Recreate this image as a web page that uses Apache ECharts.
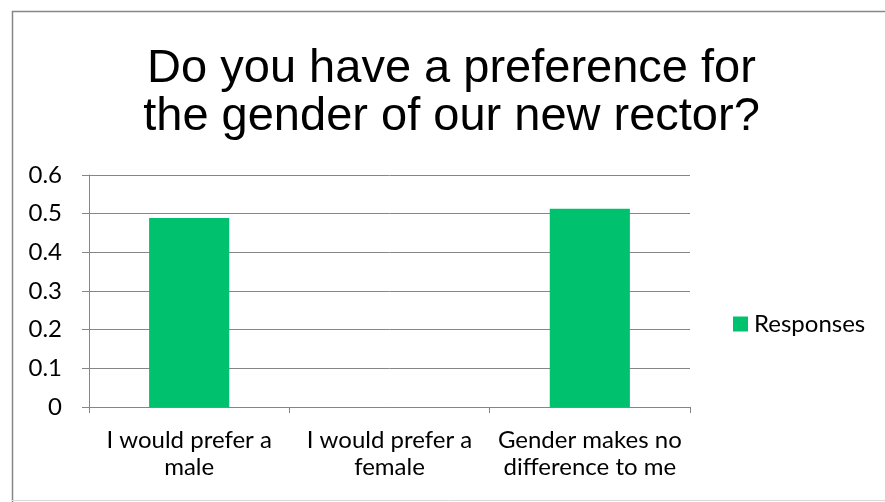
<!DOCTYPE html>
<html>
<head>
<meta charset="utf-8">
<script src="https://cdn.jsdelivr.net/npm/echarts@6/dist/echarts.min.js"></script>
<style>
  html, body { margin: 0; padding: 0; background: #fff; }
  #chart { width: 885px; height: 502px; }
</style>
</head>
<body>
<div id="chart"></div>
<script>
// Survey answers and their share of responses
const titleText = 'Do you have a preference for\nthe gender of our new rector?';
const categories = [
  'I would prefer a\nmale',
  'I would prefer a\nfemale',
  'Gender makes no\ndifference to me'
];
const seriesName = 'Responses';
const responses = [0.489, 0, 0.513];
const yTicks = { min: 0, max: 0.6, interval: 0.1 };

const axisGray = '#868686';
const barGreen = '#00C16E';
const labelFont = 'Lato, "Open Sans", sans-serif';

const chart = echarts.init(document.getElementById('chart'), null, { renderer: 'canvas' });
chart.setOption({
  animation: false,
  backgroundColor: '#fff',
  legend: {
    data: [seriesName],
    orient: 'vertical',
    left: 728,
    top: 306,
    icon: 'rect',
    itemWidth: 15,
    itemHeight: 15,
    textStyle: {
      fontFamily: labelFont,
      fontSize: 24,
      lineHeight: 26,
      color: '#000',
      padding: [0, 0, 0, 1]
    }
  },
  grid: { left: 89, right: 195, top: 175, bottom: 95 },
  xAxis: {
    type: 'category',
    data: categories,
    axisLine: { lineStyle: { color: axisGray, width: 1 } },
    axisTick: { show: true, length: 6, lineStyle: { color: axisGray } },
    axisLabel: {
      fontFamily: labelFont,
      fontSize: 24,
      color: '#000',
      lineHeight: 27,
      margin: 20,
      interval: 0
    }
  },
  yAxis: {
    type: 'value',
    min: yTicks.min,
    max: yTicks.max,
    interval: yTicks.interval,
    axisLine: { show: true, lineStyle: { color: axisGray, width: 1 } },
    axisTick: { show: true, length: 7, lineStyle: { color: axisGray } },
    splitLine: { lineStyle: { color: axisGray, width: 1 } },
    axisLabel: {
      fontFamily: labelFont,
      fontSize: 24,
      color: '#000',
      margin: 27,
      formatter: v => String(Math.round(v * 10) / 10)
    }
  },
  series: [{
    name: seriesName,
    type: 'bar',
    data: responses,
    barWidth: '40%',
    itemStyle: { color: barGreen }
  }],
  graphic: [
    // chart frame: dark top/left edges, faint bottom edge
    {
      type: 'polyline',
      shape: { points: [[12.5, 502], [12.5, 11.5], [885, 11.5]] },
      style: { fill: 'none', stroke: axisGray, lineWidth: 1.5 },
      silent: true
    },
    {
      type: 'line',
      shape: { x1: 12, y1: 500.5, x2: 885, y2: 500.5 },
      style: { stroke: '#d9d9d9', lineWidth: 1 },
      silent: true
    },
    // two-line heading centred over the framed area
    {
      type: 'text',
      x: 451.5,
      y: 45,
      silent: true,
      style: {
        text: titleText,
        align: 'center',
        verticalAlign: 'top',
        font: '47px "Liberation Sans", Arial, sans-serif',
        lineHeight: 48,
        fill: '#000'
      }
    }
  ]
});
</script>
</body>
</html>
